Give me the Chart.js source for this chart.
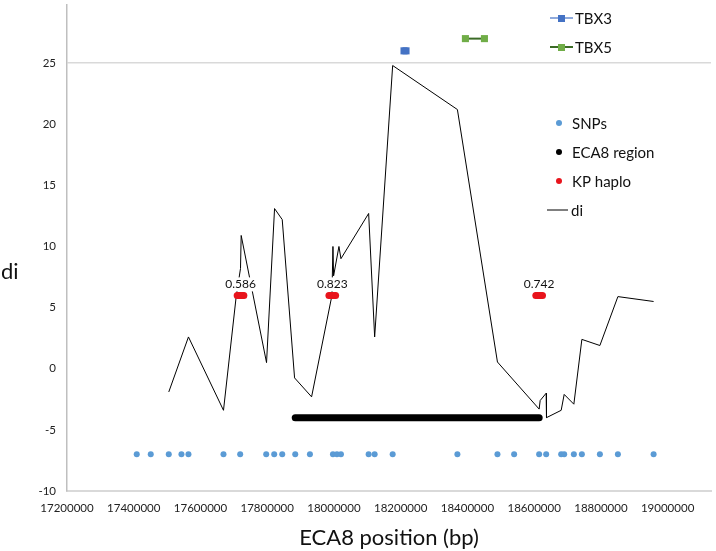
<!DOCTYPE html>
<html>
<head>
<meta charset="utf-8">
<script src="https://cdn.jsdelivr.net/npm/chart.js@4/dist/chart.umd.min.js"></script>
<style>
  html, body { margin: 0; padding: 0; background: #fff; }
  #wrap { width: 716px; height: 551px; position: relative; }
</style>
</head>
<body>
<div id="wrap"><canvas id="chartDi"></canvas></div>
<script>
// axis ticks
var xTicks = [17200000, 17400000, 17600000, 17800000, 18000000, 18200000, 18400000, 18600000, 18800000, 19000000];
var yTicks = [-10, -5, 0, 5, 10, 15, 20, 25];

// SNP positions (all plotted at -7)
var snpPos = [17409000, 17451000, 17505000, 17543000, 17564000, 17669000, 17719000, 17797000, 17821000,
	17845000, 17884000, 17928000, 17997000, 18009000, 18021000, 18104000, 18122000, 18176000, 18370000,
	18490000, 18540000, 18615000, 18636000, 18681000, 18690000, 18719000, 18743000, 18797000, 18851000, 18958000];
var snpLevel = -7;

// ECA8 region
var ecaStart = 17884000;
var ecaEnd = 18615000;
var ecaLevel = -4;

// KP haplotypes
var kpPos = [
	[17710000, 17715000, 17720000, 17725000, 17730000],
	[17985000, 17990000, 17995000, 18000000, 18005000],
	[18605000, 18610000, 18615000, 18620000, 18625000]
];
var kpLabels = ['0.586', '0.823', '0.742'];
var kpLevel = 6;

// di statistic
var diX = [17505000, 17564000, 17669000, 17707000, 17720000, 17722000, 17798000, 17822000, 17845000,
	17882000, 17933000, 17994000, 17997000, 17999000, 18015000, 18021000, 18104000, 18122000, 18176000,
	18370000, 18490000, 18615000, 18618000, 18636000, 18637000, 18681000, 18690000, 18719000, 18743000,
	18797000, 18851000, 18958000];
var diY = [-1.9, 2.6, -3.4, 5.9, 8.2, 10.9, 0.5, 13.1, 12.2,
	-0.75, -2.3, 6.0, 10.0, 7.6, 10.0, 9.0, 12.7, 2.6, 24.8,
	21.2, 0.55, -3.3, -2.6, -2.0, -4.0, -3.4, -2.1, -2.9, 2.4,
	1.9, 5.9, 5.5];

// genes
var tbx3X = [18210000, 18216000];
var tbx3Y = [26, 26];
var tbx5X = [18394000, 18451000];
var tbx5Y = [27, 27];

function pts(xs, ys) {
	var out = [];
	for (var i = 0; i < xs.length; i++) {
		out.push({ x: xs[i], y: (typeof ys === 'number') ? ys : ys[i] });
	}
	return out;
}

var FONT = "Lato, 'Open Sans', sans-serif";

// data labels above the KP haplo groups
var kpLabelPlugin = {
	id: 'kpLabels',
	afterDatasetsDraw: function(chart) {
		var ctx = chart.ctx;
		var xs = chart.scales.x, ys = chart.scales.y;
		ctx.save();
		ctx.font = '12px ' + FONT;
		ctx.textAlign = 'center';
		ctx.textBaseline = 'middle';
		kpPos.forEach(function(grp, i) {
			var sum = 0;
			grp.forEach(function(v) { sum += v; });
			var px = xs.getPixelForValue(sum / grp.length);
			var py = ys.getPixelForValue(kpLevel) - 11;
			var w = ctx.measureText(kpLabels[i]).width;
			ctx.fillStyle = '#fff';
			ctx.fillRect(px - w / 2 - 1, py - 7, w + 2, 14);
			ctx.fillStyle = '#111';
			ctx.fillText(kpLabels[i], px, py);
		});
		ctx.restore();
	}
};

// legend + horizontal y title
var sideLegend = {
	id: 'sideLegend',
	afterDraw: function(chart) {
		var ctx = chart.ctx;
		var rows = {
			'TBX3': 18, 'TBX5': 47, 'SNPs': 123, 'ECA8 region': 152, 'KP haplo': 181, 'di': 210
		};
		ctx.save();
		ctx.font = '15px ' + FONT;
		ctx.textBaseline = 'middle';
		ctx.textAlign = 'left';
		chart.data.datasets.forEach(function(ds) {
			var y = rows[ds.label];
			if (y === undefined) return;
			if (ds.legendKind === 'lineMarker') {
				ctx.strokeStyle = ds.borderColor;
				ctx.lineWidth = 2;
				ctx.beginPath(); ctx.moveTo(550, y); ctx.lineTo(573, y); ctx.stroke();
				ctx.fillStyle = ds.pointBackgroundColor;
				ctx.fillRect(558, y - 3, 7, 7);
				ctx.fillStyle = '#111';
				ctx.fillText(ds.label, 575, y + 1);
			} else if (ds.legendKind === 'dot') {
				ctx.fillStyle = ds.legendColor;
				ctx.beginPath(); ctx.arc(559, y, 3, 0, Math.PI * 2); ctx.fill();
				ctx.fillStyle = '#111';
				ctx.fillText(ds.label, 572, y + 1);
			} else {
				ctx.strokeStyle = ds.borderColor;
				ctx.lineWidth = 1;
				ctx.beginPath(); ctx.moveTo(547, y); ctx.lineTo(568, y); ctx.stroke();
				ctx.fillStyle = '#111';
				ctx.fillText(ds.label, 571, y + 1);
			}
		});
		// y axis title, written horizontally
		ctx.font = '22px ' + FONT;
		ctx.fillStyle = '#111';
		ctx.fillText('di', 1, 272);
		ctx.restore();
	}
};

var chart = new Chart(document.getElementById('chartDi'), {
	type: 'scatter',
	data: {
		datasets: [
			{
				label: 'KP haplo',
				legendKind: 'dot',
				legendColor: '#e8141c',
				data: pts([].concat(kpPos[0], kpPos[1], kpPos[2]), kpLevel),
				pointRadius: 3.5,
				pointBackgroundColor: '#e8141c',
				pointBorderWidth: 0,
				showLine: false
			},
			{
				label: 'ECA8 region',
				legendKind: 'dot',
				legendColor: '#000',
				type: 'line',
				data: pts([ecaStart, ecaEnd], ecaLevel),
				borderColor: '#000',
				borderWidth: 7,
				borderCapStyle: 'round',
				pointRadius: 0
			},
			{
				label: 'SNPs',
				legendKind: 'dot',
				legendColor: '#5b9bd5',
				data: pts(snpPos, snpLevel),
				pointRadius: 3,
				pointBackgroundColor: '#5b9bd5',
				pointBorderWidth: 0,
				showLine: false
			},
			{
				label: 'TBX3',
				legendKind: 'lineMarker',
				type: 'line',
				data: pts(tbx3X, tbx3Y),
				borderColor: '#8faadc',
				borderWidth: 2,
				pointStyle: 'rect',
				pointRadius: 5,
				pointBackgroundColor: '#4472c4',
				pointBorderWidth: 0
			},
			{
				label: 'TBX5',
				legendKind: 'lineMarker',
				type: 'line',
				data: pts(tbx5X, tbx5Y),
				borderColor: '#3b6b26',
				borderWidth: 2,
				pointStyle: 'rect',
				pointRadius: 5,
				pointBackgroundColor: '#70ad47',
				pointBorderWidth: 0
			},
			{
				label: 'di',
				legendKind: 'line',
				type: 'line',
				data: pts(diX, diY),
				borderColor: '#000',
				borderWidth: 1,
				pointRadius: 0,
				tension: 0
			}
		]
	},
	options: {
		responsive: true,
		maintainAspectRatio: false,
		animation: false,
		layout: { padding: { top: 0, right: 3, bottom: 0, left: 0 } },
		plugins: {
			legend: { display: false },
			tooltip: { enabled: false }
		},
		scales: {
			x: {
				type: 'linear',
				min: 17200000,
				max: 19130000,
				afterBuildTicks: function(scale) {
					scale.ticks = xTicks.map(function(v) { return { value: v }; });
				},
				afterFit: function(scale) {
					scale.height = 60;
					scale.paddingLeft = 0;
					scale.paddingRight = 0;
				},
				grid: { display: false, drawTicks: false },
				border: { display: true, color: '#d9d9d9', width: 2 },
				ticks: {
					padding: 10,
					maxRotation: 0,
					autoSkip: false,
					color: '#222',
					font: { family: FONT, size: 11.5 },
					callback: function(v) { return String(v); }
				},
				title: {
					display: true,
					text: 'ECA8 position (bp)',
					color: '#111',
					padding: { top: 0, bottom: 0 },
					font: { family: FONT, size: 22 }
				}
			},
			y: {
				type: 'linear',
				min: -10,
				max: 29.75,
				afterBuildTicks: function(scale) {
					scale.ticks = yTicks.map(function(v) { return { value: v }; });
				},
				afterFit: function(scale) {
					scale.width = 67;
					scale.paddingTop = 0;
					scale.paddingBottom = 0;
				},
				grid: {
					drawTicks: false,
					lineWidth: 1.5,
					color: function(c) { return (c.tick && c.tick.value === 25) ? '#d9d9d9' : 'rgba(0,0,0,0)'; }
				},
				border: { display: true, color: '#bfbfbf', width: 1.5 },
				ticks: {
					padding: 11,
					color: '#222',
					font: { family: FONT, size: 11.5 }
				}
			}
		}
	},
	plugins: [kpLabelPlugin, sideLegend]
});
</script>
</body>
</html>
